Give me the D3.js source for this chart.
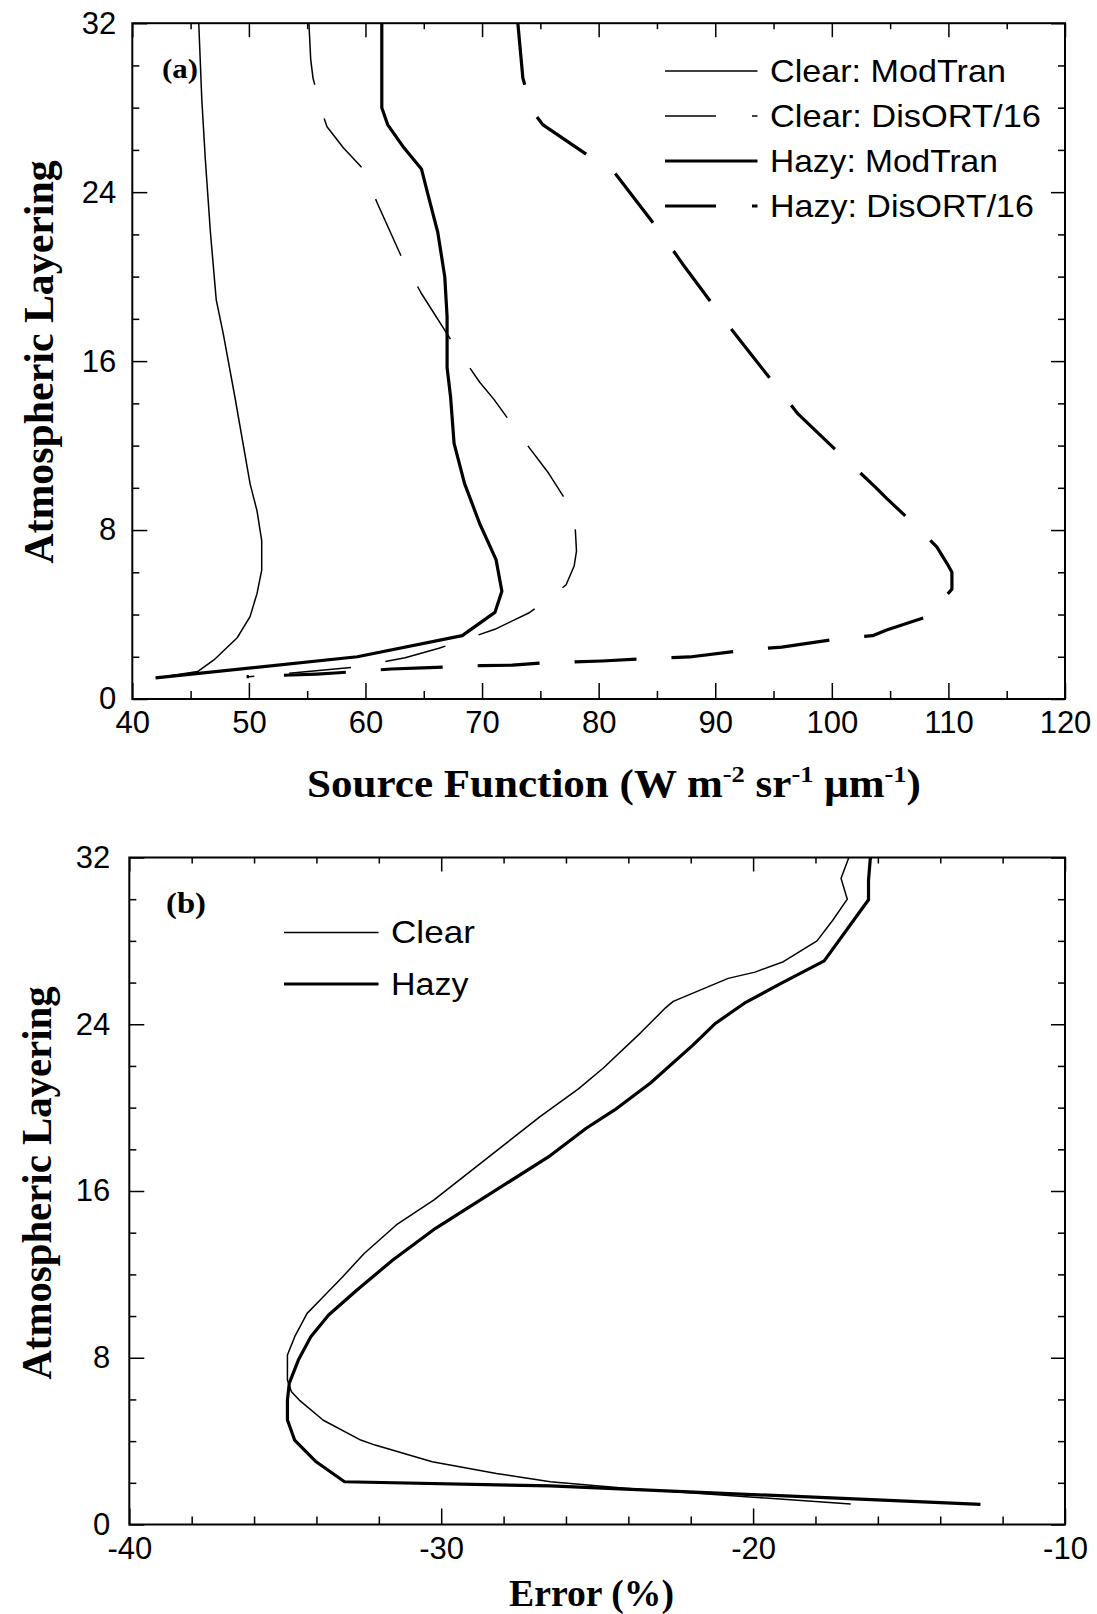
<!DOCTYPE html>
<html><head><meta charset="utf-8">
<script src="https://cdn.jsdelivr.net/npm/d3@7"></script>
<style>body{margin:0;background:#fff}</style>
</head><body>
<svg id="chart" width="1097" height="1614"></svg>
<script>
// ---------- data ----------
const layerTicks = [0, 8, 16, 24, 32];
const layerMinor = [2, 4, 6, 10, 12, 14, 18, 20, 22, 26, 28, 30];
const sfTicks = [40, 50, 60, 70, 80, 90, 100, 110, 120];
const sfMinor = [45, 55, 65, 75, 85, 95, 105, 115];
const errTicks = [-40, -30, -20, -10];
const errMinor = [-38, -36, -34, -32, -28, -26, -24, -22, -18, -16, -14, -12];

// panel (a): [source function, layer]
const clearModtran = [[45.7,32],[45.96,28.4],[46.27,25.5],[46.7,22.1],[47.2,18.9],[47.8,17.3],[48.8,14.3],[50.1,10.2],[50.7,8.9],[51.1,7.5],[51.1,6.1],[50.7,5.0],[50.1,3.9],[49.0,2.9],[47.0,1.85],[45.6,1.3],[42,1.0]];
const clearDisort = [[55.15,32],[55.3,30.3],[55.5,29.4],[56.2,27.9],[56.7,27.1],[58.1,26.1],[59.8,25.1],[61.0,23.5],[63.2,20.8],[64.8,19.2],[67.8,16.6],[69.8,15.0],[71.0,14.2],[73.5,12.3],[75.7,10.7],[77.2,9.4],[78.0,8.0],[78.1,7.0],[77.9,6.3],[77.2,5.4],[76.3,5.0],[75.0,4.45],[74.0,4.07],[71.1,3.3],[66.3,2.4],[63.4,1.95],[59.0,1.5],[50.0,1.05]];
const hazyModtran = [[61.4,32],[61.4,29.9],[61.4,28.0],[61.9,27.2],[63.3,26.1],[64.8,25.1],[65.4,23.8],[66.2,22.1],[66.8,20.0],[67.0,18.1],[67.0,15.7],[67.3,14.3],[67.6,12.1],[68.5,10.2],[69.8,8.3],[71.2,6.6],[71.7,5.1],[71.1,4.1],[68.3,3.0],[59.3,2.0],[42,1.0]];
const hazyDisort = [[73.07,32],[73.5,29.4],[74.3,27.85],[75.2,27.2],[78.8,25.85],[81.4,24.9],[85.3,22.1],[87.2,20.6],[90.9,17.85],[93.1,16.3],[97.1,13.5],[99.95,12.0],[103.8,10.0],[104.7,9.5],[107.6,8.0],[109.0,7.2],[109.9,6.4],[110.3,6.0],[110.3,5.2],[108.2,3.9],[104.7,3.27],[103.5,3.0],[100.4,2.84],[95.7,2.46],[92.6,2.32],[87.8,1.99],[85.1,1.94],[80.3,1.8],[75.0,1.7],[72.6,1.6],[69.9,1.58],[64.9,1.47],[62.2,1.42],[57.4,1.23],[55.8,1.18],[49.8,1.06]];

// panel (b): [error %, layer]
const clearError = [[-16.93,32],[-17.18,31.0],[-16.98,30.0],[-17.44,29.0],[-17.95,28.0],[-19.03,27.0],[-19.94,26.5],[-20.8,26.2],[-22.56,25.1],[-22.8,24.8],[-23.6,23.6],[-24.8,21.9],[-25.6,20.9],[-26.83,19.57],[-30.23,15.57],[-31.44,14.37],[-32.47,13.0],[-33.15,11.9],[-33.78,10.93],[-34.3,10.13],[-34.7,9.0],[-34.93,8.13],[-34.93,6.93],[-34.8,6.37],[-34.55,5.97],[-33.78,5.0],[-32.58,4.05],[-32.12,3.81],[-30.29,3.01],[-28.23,2.45],[-26.5,2.05],[-24.1,1.74],[-16.87,0.98]];
const hazyError = [[-16.24,32],[-16.3,30.9],[-16.3,29.97],[-17.72,27.04],[-19.09,25.97],[-20.28,25.01],[-21.2,24.05],[-21.93,23.0],[-23.3,21.17],[-24.44,19.89],[-25.35,19.01],[-26.5,17.7],[-28.74,15.57],[-30.18,14.21],[-31.55,12.69],[-32.7,11.25],[-33.61,10.05],[-34.18,9.01],[-34.58,7.89],[-34.87,6.78],[-34.93,5.97],[-34.93,5.01],[-34.7,4.05],[-34.01,3.01],[-33.1,2.05],[-26.5,1.85],[-12.71,0.97]];

const legendA = ["Clear: ModTran", "Clear: DisORT/16", "Hazy: ModTran", "Hazy: DisORT/16"];
const legendB = ["Clear", "Hazy"];

// ---------- drawing ----------
const svg = d3.select('#chart');
svg.append('rect').attr('width', 1097).attr('height', 1614).attr('fill', '#fff');

const SANS = "'Liberation Sans', Arial, Helvetica, sans-serif";
const SERIF = "'Liberation Serif', 'Times New Roman', serif";
const THIN = 1.5, THICK = 3.2, DASH = "62,35";

function styleAxis(g, fontSize) {
  g.select('.domain').remove();
  g.selectAll('.tick line').attr('stroke', '#000').attr('stroke-width', 1.5);
  g.selectAll('.tick text').attr('font-family', SANS).attr('font-size', fontSize).attr('fill', '#000');
}

function fitWidth(sel, target) {
  const w = sel.node().getBBox().width;
  return target / w;
}

function drawPanel(o) {
  const g = svg.append('g');
  const x = o.x, y = o.y;
  const [x0, x1] = x.range(), [y0, y1] = y.range();
  const fmt = d => String(d);
  // bottom
  g.append('g').attr('transform', `translate(0,${y0})`)
    .call(d3.axisBottom(x).tickValues(o.xTicks).tickSizeInner(-16).tickSizeOuter(0).tickPadding(12).tickFormat(fmt))
    .call(a => styleAxis(a, 31));
  g.append('g').attr('transform', `translate(0,${y0})`)
    .call(d3.axisBottom(x).tickValues(o.xMinor).tickSizeInner(-8).tickSizeOuter(0).tickFormat(''))
    .call(a => styleAxis(a, 31));
  // top
  g.append('g').attr('transform', `translate(0,${y1})`)
    .call(d3.axisTop(x).tickValues(o.xTicks).tickSizeInner(-14).tickSizeOuter(0).tickFormat(''))
    .call(a => styleAxis(a, 31));
  g.append('g').attr('transform', `translate(0,${y1})`)
    .call(d3.axisTop(x).tickValues(o.xMinor).tickSizeInner(-6).tickSizeOuter(0).tickFormat(''))
    .call(a => styleAxis(a, 31));
  // left
  g.append('g').attr('transform', `translate(${x0},0)`)
    .call(d3.axisLeft(y).tickValues(layerTicks).tickSizeInner(-15).tickSizeOuter(0).tickPadding(o.yPad).tickFormat(fmt))
    .call(a => styleAxis(a, 31));
  g.append('g').attr('transform', `translate(${x0},0)`)
    .call(d3.axisLeft(y).tickValues(layerMinor).tickSizeInner(-7).tickSizeOuter(0).tickFormat(''))
    .call(a => styleAxis(a, 31));
  // right
  g.append('g').attr('transform', `translate(${x1},0)`)
    .call(d3.axisRight(y).tickValues(layerTicks).tickSizeInner(-14).tickSizeOuter(0).tickFormat(''))
    .call(a => styleAxis(a, 31));
  g.append('g').attr('transform', `translate(${x1},0)`)
    .call(d3.axisRight(y).tickValues(layerMinor).tickSizeInner(-7).tickSizeOuter(0).tickFormat(''))
    .call(a => styleAxis(a, 31));
  // frame
  g.append('rect').attr('x', x0).attr('y', y1).attr('width', x1 - x0).attr('height', y0 - y1)
    .attr('fill', 'none').attr('stroke', '#000').attr('stroke-width', 2);

  const line = d3.line().x(d => x(d[0])).y(d => y(d[1]));
  o.series.forEach(s => {
    g.append('path').datum(s.data).attr('d', line)
      .attr('fill', 'none').attr('stroke', '#000')
      .attr('stroke-width', s.w).attr('stroke-linejoin', 'round')
      .attr('stroke-dasharray', s.dash || null);
  });

  // y title
  const yt = g.append('text').attr('font-family', SERIF).attr('font-weight', 'bold')
    .attr('font-size', 43).attr('text-anchor', 'middle').attr('fill', '#000')
    .text('Atmospheric Layering');
  const ky = fitWidth(yt, o.yTitle.len);
  yt.attr('transform', `translate(${o.yTitle.x},${o.yTitle.cy}) rotate(-90) scale(${ky},1)`);

  // panel label
  const pl = g.append('text').attr('font-family', SERIF).attr('font-weight', 'bold')
    .attr('font-size', o.tag.size).attr('text-anchor', 'middle').attr('fill', '#000').text(o.tag.text);
  const kp = fitWidth(pl, o.tag.w);
  pl.attr('transform', `translate(${o.tag.cx},${o.tag.base}) scale(${kp},1)`);
  return g;
}

// Panel (a)
const xA = d3.scaleLinear().domain([40, 120]).range([132.3, 1065]);
const yA = d3.scaleLinear().domain([0, 32]).range([699, 23.2]);
drawPanel({
  x: xA, y: yA, xTicks: sfTicks, xMinor: sfMinor, yPad: 16,
  series: [
    {data: clearModtran, w: THIN},
    {data: clearDisort, w: THIN, dash: DASH},
    {data: hazyModtran, w: THICK},
    {data: hazyDisort, w: THICK, dash: DASH}
  ],
  yTitle: {x: 53, cy: 362, len: 404},
  tag: {text: '(a)', size: 28, cx: 180, base: 78, w: 36}
});

// x title (a) with superscripts
const st = svg.append('text').attr('font-family', SERIF).attr('font-weight', 'bold')
  .attr('font-size', 39).attr('text-anchor', 'middle').attr('fill', '#000');
st.append('tspan').text('Source Function (W m');
st.append('tspan').attr('font-size', 24).attr('dy', -15).text('-2');
st.append('tspan').attr('dy', 15).text(' sr');
st.append('tspan').attr('font-size', 24).attr('dy', -15).text('-1');
st.append('tspan').attr('dy', 15).text(' \u03bcm');
st.append('tspan').attr('font-size', 24).attr('dy', -15).text('-1');
st.append('tspan').attr('dy', 15).text(')');
const ks = fitWidth(st, 614);
st.attr('transform', `translate(614,797) scale(${ks},1)`);

// legend (a)
const legRowsA = [71, 116, 161, 206];
const legStyleA = [{w: THIN}, {w: THIN, dash: "51,36"}, {w: THICK}, {w: THICK, dash: "51,36"}];
legendA.forEach((t, i) => {
  const yy = legRowsA[i];
  svg.append('line').attr('x1', 665).attr('x2', 757.5).attr('y1', yy).attr('y2', yy)
    .attr('stroke', '#000').attr('stroke-width', legStyleA[i].w)
    .attr('stroke-dasharray', legStyleA[i].dash || null);
  const tx = svg.append('text').attr('font-family', SANS).attr('font-size', 31).attr('fill', '#000').text(t);
  const target = [236, 271, 228, 264][i];
  const k = fitWidth(tx, target);
  tx.attr('transform', `translate(770,${yy + 11}) scale(${k},1)`);
});

// Panel (b)
const xB = d3.scaleLinear().domain([-40, -10]).range([129.3, 1065]);
const yB = d3.scaleLinear().domain([0, 32]).range([1524.5, 857.5]);
drawPanel({
  x: xB, y: yB, xTicks: errTicks, xMinor: errMinor, yPad: 19,
  series: [
    {data: clearError, w: THIN},
    {data: hazyError, w: THICK}
  ],
  yTitle: {x: 51, cy: 1183, len: 394},
  tag: {text: '(b)', size: 29, cx: 186, base: 913, w: 40}
});

const et = svg.append('text').attr('font-family', SERIF).attr('font-weight', 'bold')
  .attr('font-size', 38).attr('text-anchor', 'middle').attr('fill', '#000').text('Error (%)');
const ke = fitWidth(et, 165);
et.attr('transform', `translate(591.5,1606) scale(${ke},1)`);

// legend (b)
const legRowsB = [932.5, 984];
const legWB = [THIN, THICK];
legendB.forEach((t, i) => {
  const yy = legRowsB[i];
  svg.append('line').attr('x1', 284).attr('x2', 378.5).attr('y1', yy).attr('y2', yy)
    .attr('stroke', '#000').attr('stroke-width', legWB[i]);
  const tx = svg.append('text').attr('font-family', SANS).attr('font-size', 31).attr('fill', '#000').text(t);
  const k = fitWidth(tx, [84, 78][i]);
  tx.attr('transform', `translate(391,${yy + 10.5}) scale(${k},1)`);
});
</script>
</body></html>
